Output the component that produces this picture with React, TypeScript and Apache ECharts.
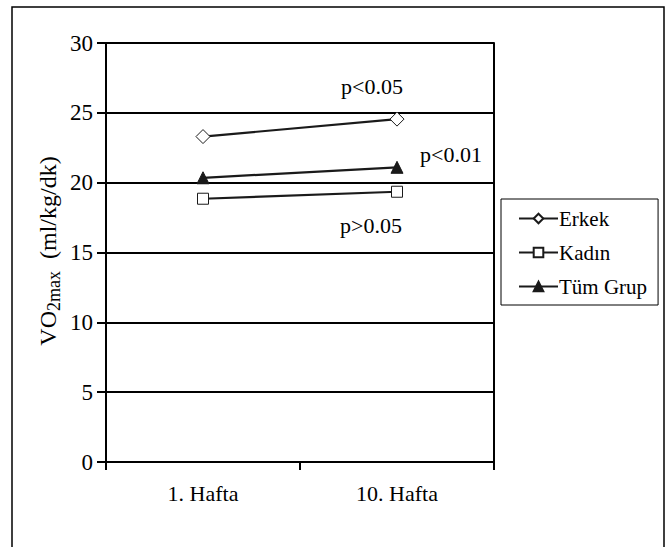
import React, { useEffect, useRef } from "react";
import * as echarts from "echarts";

const categories = ["1. Hafta", "10. Hafta"];
const erkek = [23.3, 24.55];
const kadin = [18.85, 19.35];
const tumGrup = [20.35, 21.1];
const seriesNames = ["Erkek", "Kadın", "Tüm Grup"];
const yMin = 0;
const yMax = 30;
const yStep = 5;
const pLabels = ["p<0.05", "p<0.01", "p>0.05"];

const FONT = "'Liberation Serif', 'DejaVu Serif', serif";

export default function App() {
  const ref = useRef<HTMLDivElement>(null);
  useEffect(() => {
    if (!ref.current) return;
    const chart = echarts.init(ref.current, undefined, { renderer: "svg" });
    const mkSeries = (name: string, data: number[], symbol: string, size: number, fill: string) => ({
      name,
      type: "line",
      data,
      symbol,
      symbolSize: size,
      showAllSymbol: true,
      lineStyle: { color: "#1a1a1a", width: 2.2 },
      itemStyle: { color: fill, borderColor: "#1a1a1a", borderWidth: 1 },
      z: 5,
    });
    chart.setOption({
      animation: false,
      backgroundColor: "#fff",
      textStyle: { fontFamily: FONT },
      grid: { left: 106, right: 174, top: 43, bottom: 85 },
      xAxis: {
        type: "category",
        data: categories,
        boundaryGap: true,
        axisLine: { show: true, lineStyle: { color: "#000", width: 2 } },
        axisTick: { show: true, length: 8, lineStyle: { color: "#000", width: 2 } },
        axisLabel: { color: "#000", fontFamily: FONT, fontSize: 22, margin: 20 },
        splitLine: { show: false },
      },
      yAxis: [
        {
          type: "value",
          min: yMin,
          max: yMax,
          interval: yStep,
          axisLine: { show: true, lineStyle: { color: "#000", width: 2 } },
          axisTick: { show: true, length: 9, lineStyle: { color: "#000", width: 2 } },
          axisLabel: { color: "#000", fontFamily: FONT, fontSize: 23, margin: 13 },
          splitLine: { show: true, lineStyle: { color: "#000", width: 2 } },
        },
        {
          type: "value",
          position: "right",
          min: yMin,
          max: yMax,
          interval: yStep,
          axisLine: { show: true, onZero: false, lineStyle: { color: "#000", width: 2 } },
          axisTick: { show: false },
          axisLabel: { show: false },
          splitLine: { show: false },
        },
      ],
      legend: {
        data: seriesNames,
        orient: "vertical",
        left: 501,
        top: 199,
        borderColor: "#000",
        borderWidth: 1,
        padding: [9, 11, 8, 17],
        itemGap: 13,
        itemWidth: 39,
        itemHeight: 12,
        textStyle: { color: "#000", fontFamily: FONT, fontSize: 21, padding: [0, 0, 0, -4] },
      },
      series: [
        mkSeries(seriesNames[0], erkek, "diamond", 14, "#fff"),
        mkSeries(seriesNames[1], kadin, "rect", 11, "#fff"),
        mkSeries(seriesNames[2], tumGrup, "triangle", 12, "#1a1a1a"),
      ],
      graphic: [
        {
          type: "rect",
          shape: { x: 12, y: 7, width: 652, height: 600 },
          style: { fill: "none", stroke: "#000", lineWidth: 1.5 },
          silent: true,
          z: -1,
        },
        {
          type: "text",
          x: 48,
          y: 251,
          rotation: Math.PI / 2,
          style: {
            text: "{a|VO}{s|2max}{a|  (ml/kg/dk)}",
            align: "center",
            verticalAlign: "middle",
            fill: "#000",
            rich: {
              a: { fontFamily: FONT, fontSize: 24, fill: "#000" },
              s: { fontFamily: FONT, fontSize: 18, fill: "#000", padding: [12, 0, 0, 0] },
            },
          },
        },
        {
          type: "text",
          x: 372,
          y: 86,
          style: { text: pLabels[0], align: "center", verticalAlign: "middle", fontFamily: FONT, fontSize: 22, fill: "#000" },
        },
        {
          type: "text",
          x: 451,
          y: 154,
          style: { text: pLabels[1], align: "center", verticalAlign: "middle", fontFamily: FONT, fontSize: 22, fill: "#000" },
        },
        {
          type: "text",
          x: 371,
          y: 225,
          style: { text: pLabels[2], align: "center", verticalAlign: "middle", fontFamily: FONT, fontSize: 22, fill: "#000" },
        },
      ],
    });
    return () => chart.dispose();
  }, []);
  return <div ref={ref} style={{ position: "fixed", left: 0, top: 0, width: 668, height: 547 }} />;
}
